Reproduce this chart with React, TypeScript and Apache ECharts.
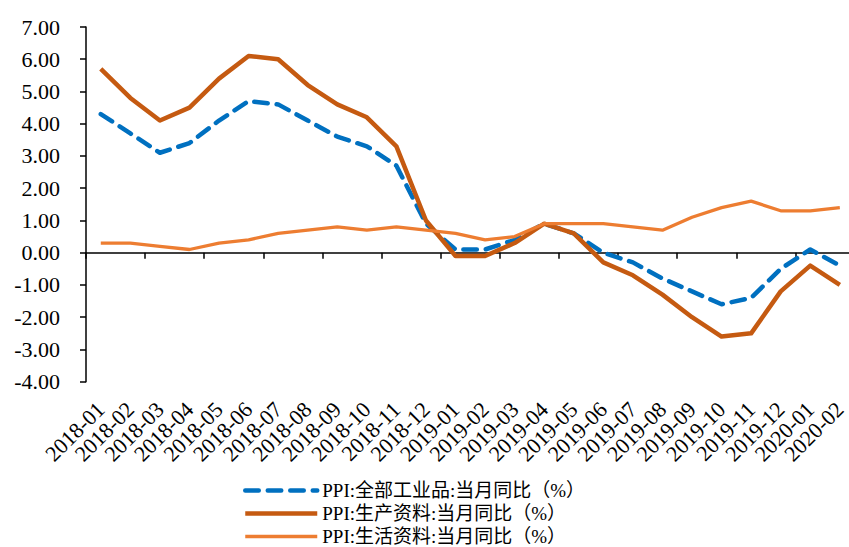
import React, { useEffect, useRef } from "react";
import * as echarts from "echarts";

const categories = [
  "2018-01", "2018-02", "2018-03", "2018-04", "2018-05", "2018-06", "2018-07", "2018-08", "2018-09", "2018-10", "2018-11", "2018-12",
  "2019-01", "2019-02", "2019-03", "2019-04", "2019-05", "2019-06", "2019-07", "2019-08", "2019-09", "2019-10", "2019-11", "2019-12",
  "2020-01", "2020-02",
];
const ppiAll = [4.3, 3.7, 3.1, 3.4, 4.1, 4.7, 4.6, 4.1, 3.6, 3.3, 2.7, 0.9, 0.1, 0.1, 0.4, 0.9, 0.6, 0.0, -0.3, -0.8, -1.2, -1.6, -1.4, -0.5, 0.1, -0.4];
const ppiProd = [5.7, 4.8, 4.1, 4.5, 5.4, 6.1, 6.0, 5.2, 4.6, 4.2, 3.3, 1.0, -0.1, -0.1, 0.3, 0.9, 0.6, -0.3, -0.7, -1.3, -2.0, -2.6, -2.5, -1.2, -0.4, -1.0];
const ppiLiving = [0.3, 0.3, 0.2, 0.1, 0.3, 0.4, 0.6, 0.7, 0.8, 0.7, 0.8, 0.7, 0.6, 0.4, 0.5, 0.9, 0.9, 0.9, 0.8, 0.7, 1.1, 1.4, 1.6, 1.3, 1.3, 1.4];
const seriesNames = ["PPI:全部工业品:当月同比（%）", "PPI:生产资料:当月同比（%）", "PPI:生活资料:当月同比（%）"];
const yMin = -4;
const yMax = 7;
const yInterval = 1;

const FONT = "Liberation Serif, Noto Sans CJK SC, serif";
const DASH = [13.5, 9];
const COLORS = ["#0070C0", "#C55A11", "#ED7D31"];
const WIDTHS = [4.5, 4.5, 3.3];

export default function App() {
  const ref = useRef<HTMLDivElement>(null);
  useEffect(() => {
    if (!ref.current) return;
    const chart = echarts.init(ref.current, null, { renderer: "svg" });
    chart.setOption({
      animation: false,
      backgroundColor: "#ffffff",
      grid: { left: 86, top: 27, width: 768.6, height: 354.7, outerBoundsMode: "none", containLabel: false },
      legend: {
        orient: "vertical",
        left: 243,
        top: 481,
        height: 100,
        padding: 0,
        itemWidth: 72,
        itemHeight: 14,
        itemGap: 4,
        itemStyle: { opacity: 0 },
        textStyle: { fontFamily: FONT, fontSize: 19, color: "#000" },
        data: seriesNames.map((name, i) => ({
          name,
          lineStyle: {
            width: WIDTHS[i],
            color: COLORS[i],
            type: i === 0 ? DASH : "solid",
            cap: i === 0 ? "round" : "butt",
          },
        })),
      },
      xAxis: [
        {
          type: "category",
          data: categories,
          position: "bottom",
          axisLine: { show: false, onZero: false },
          axisTick: { show: false },
          axisLabel: { rotate: 45, margin: 24, fontFamily: FONT, fontSize: 22, color: "#000", interval: 0 },
        },
        {
          type: "category",
          data: categories,
          position: "bottom",
          axisLine: { show: true, onZero: true, lineStyle: { color: "#000", width: 1.5 } },
          axisTick: { show: true, length: 6, lineStyle: { color: "#000", width: 1.5 } },
          axisLabel: { show: false },
        },
      ],
      yAxis: {
        type: "value",
        min: yMin,
        max: yMax,
        interval: yInterval,
        splitLine: { show: false },
        axisLine: { show: true, lineStyle: { color: "#000", width: 1.5 } },
        axisTick: { show: true, length: 6, lineStyle: { color: "#000", width: 1.5 } },
        axisLabel: {
          margin: 26,
          fontFamily: FONT,
          fontSize: 22,
          color: "#000",
          formatter: (v: number) => v.toFixed(2),
        },
      },
      series: [
        {
          name: seriesNames[0],
          type: "line",
          data: ppiAll,
          symbol: "none",
          lineStyle: { color: COLORS[0], width: WIDTHS[0], type: DASH, cap: "round", join: "round" },
          itemStyle: { color: COLORS[0] },
        },
        {
          name: seriesNames[1],
          type: "line",
          data: ppiProd,
          symbol: "none",
          lineStyle: { color: COLORS[1], width: WIDTHS[1], join: "round" },
          itemStyle: { color: COLORS[1] },
        },
        {
          name: seriesNames[2],
          type: "line",
          data: ppiLiving,
          symbol: "none",
          lineStyle: { color: COLORS[2], width: WIDTHS[2], join: "round" },
          itemStyle: { color: COLORS[2] },
        },
      ],
    });
    return () => chart.dispose();
  }, []);
  return <div ref={ref} style={{ width: 849, height: 547, position: "absolute", left: 0, top: 0 }} />;
}
